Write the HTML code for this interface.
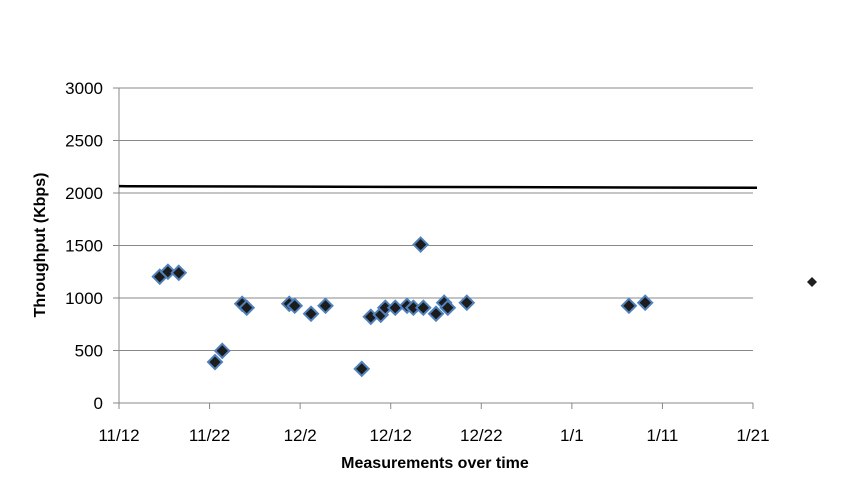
<!DOCTYPE html>
<html><head><meta charset="utf-8"><style>
body{margin:0;background:#fff;}
svg{display:block;font-family:"Liberation Sans",sans-serif;}
</style></head><body>
<svg id="chart" width="843" height="499" viewBox="0 0 843 499">
<g id="grid"></g><g id="axes"></g><g id="marks"></g>
<text x="435" y="468" text-anchor="middle" font-size="16" font-weight="bold">Measurements over time</text>
<text transform="translate(45,245) rotate(-90)" text-anchor="middle" font-size="16" font-weight="bold">Throughput  (Kbps)</text>
<path d="M812 277 L817 282 L812 287 L807 282 Z" fill="#1f1f1f"/>
</svg>
<script>
const dayOffsets=[4.5,5.4,6.6,10.6,11.4,13.6,14.1,18.8,19.4,21.2,22.8,26.8,27.8,28.9,29.4,30.5,31.8,32.5,33.3,33.6,35.0,35.9,36.3,38.4,56.3,58.1];
const throughput=[1203,1250,1240,390,497,945,907,945,926,850,926,325,821,840,907,907,926,907,1509,907,850,955,907,955,926,955];
const yTicks=[0,500,1000,1500,2000,2500,3000];
const xTickLabels=["11/12","11/22","12/2","12/12","12/22","1/1","1/11","1/21"];
const refLine=[2065,2050];
const X0=119,X1=753,Y0=403,Y1=88,DMAX=70,VMAX=3000;
const xs=d=>X0+(X1-X0)*d/DMAX;
const ys=v=>Y0-(Y0-Y1)*v/VMAX;
const NS="http://www.w3.org/2000/svg";
function mk(t,a,p){const e=document.createElementNS(NS,t);for(const k in a)e.setAttribute(k,a[k]);p.appendChild(e);return e;}
const grid=document.getElementById('grid'),axes=document.getElementById('axes'),marks=document.getElementById('marks');
yTicks.forEach(v=>{
 const y=ys(v);
 if(v>0){const l=mk('line',{x1:X0,x2:X1,y1:y,y2:y,stroke:'#888','stroke-width':1},grid);
 
 }
 const t=mk('line',{x1:X0-6,x2:X0,y1:y,y2:y,stroke:'#888'},axes);
 
 
 const tx=mk('text',{x:X0-16,y:y+6,'text-anchor':'end','font-size':17},axes);
 tx.textContent=v;
 
 
});
const ya=mk('line',{x1:X0,x2:X0,y1:Y1,y2:Y0,stroke:'#888'},axes);


const xa=mk('line',{x1:X0-6,x2:X1,y1:Y0,y2:Y0,stroke:'#888'},axes);


xTickLabels.forEach((s,i)=>{
 const x=xs(i*10);
 const t=mk('line',{x1:x,x2:x,y1:Y0,y2:Y0+6,stroke:'#888'},axes);
 
 
 const tx=mk('text',{x:x,y:Y0+38,'text-anchor':'middle','font-size':17},axes);
 tx.textContent=s;
 
 
});
const rl=mk('line',{x1:X0,x2:X1+4,y1:ys(refLine[0]),y2:ys(refLine[1]),stroke:'#000','stroke-width':2.5},marks);


dayOffsets.forEach((d,i)=>{
 const x=xs(d),y=ys(throughput[i]),r=7;
 const p=mk('path',{d:`M${x} ${y-r} L${x+r} ${y} L${x} ${y+r} L${x-r} ${y} Z`,fill:'#1c1c1c',stroke:'#4f81bd','stroke-width':2},marks);
 
 
});
</script>
</body></html>
